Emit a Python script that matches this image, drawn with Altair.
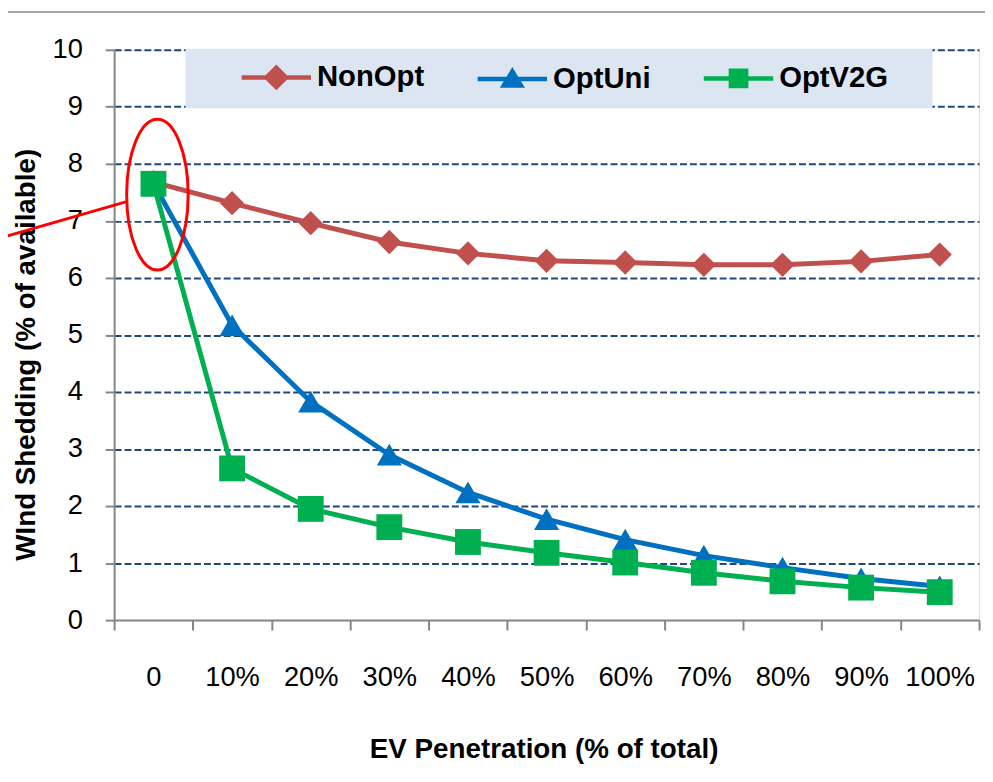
import altair as alt
import pandas as pd

# ---------------- data ----------------
categories = ["0", "10%", "20%", "30%", "40%", "50%", "60%", "70%", "80%", "90%", "100%"]
series_names = ["NonOpt", "OptUni", "OptV2G"]
nonopt = [7.68, 7.31, 6.96, 6.63, 6.43, 6.30, 6.27, 6.23, 6.23, 6.29, 6.41]
optuni = [7.66, 5.17, 3.83, 2.90, 2.24, 1.77, 1.41, 1.13, 0.92, 0.73, 0.59]
optv2g = [7.65, 2.66, 1.95, 1.63, 1.37, 1.18, 1.01, 0.83, 0.68, 0.57, 0.49]
y_ticks = [0, 1, 2, 3, 4, 5, 6, 7, 8, 9, 10]

# annotation (red ellipse around the first point)
annot_category = ["0"]
annot_value = [7.46]

# ---------------- styles ----------------
colors = ["#C0504D", "#0070C0", "#00B050"]
marker_shapes = ["diamond", "triangle-up", "square"]
marker_sizes = [600, 680, 380]
AXIS_GRAY = "#868686"
FONT = "Liberation Sans"


def nested(poly, factors):
    parts = []
    for f in factors:
        pts = [(x * f, y * f) for x, y in poly]
        parts.append("M" + "L".join(f"{x:.3f},{y:.3f}" for x, y in pts) + "Z")
    return "".join(parts)


ARM = "M-2.5,0L2.5,0"
legend_shapes = [
    ARM + nested([(-0.7, 0), (0, -0.7), (0.7, 0), (0, 0.7)], [1, 0.62, 0.25]),
    ARM + nested([(0, -0.56), (0.62, 0.46), (-0.62, 0.46)], [1, 0.6, 0.25]),
    ARM + nested([(-0.55, -0.55), (0.55, -0.55), (0.55, 0.55), (-0.55, 0.55)], [1, 0.6, 0.2]),
]
ellipse_path = (
    "M0.408,0C0.408,0.5523 0.2253,1 0,1C-0.2253,1 -0.408,0.5523 -0.408,0"
    "C-0.408,-0.5523 -0.2253,-1 0,-1C0.2253,-1 0.408,-0.5523 0.408,0Z"
    "M-0.408,0.092L-2.36,0.655"
)

rows = []
for s, vals in zip(series_names, [nonopt, optuni, optv2g]):
    for c, v in zip(categories, vals):
        rows.append({"series": s, "category": c, "value": v})
df = pd.DataFrame(rows)
annot = pd.DataFrame({"category": annot_category, "value": annot_value})

x_enc = alt.X(
    "category:N",
    sort=categories,
    scale=alt.Scale(type="band", domain=categories, paddingInner=0, paddingOuter=0),
    axis=alt.Axis(
        title="EV Penetration (% of total)",
        titleFont=FONT, titleFontSize=28, titleFontWeight="bold", titleColor="black",
        titleBaseline="alphabetic", titleY=139, titleX=433,
        labelFont=FONT, labelFontSize=27.5, labelColor="black", labelAngle=0,
        labelPadding=56, labelBaseline="alphabetic",
        tickSize=10, tickWidth=2, tickColor=AXIS_GRAY, tickBand="extent",
        domainColor=AXIS_GRAY, domainWidth=2, grid=False,
    ),
)
y_enc = alt.Y(
    "value:Q",
    scale=alt.Scale(domain=[0, 10], nice=False),
    axis=alt.Axis(
        values=y_ticks,
        title="WInd Shedding (% of available)",
        titleFont=FONT, titleFontSize=28, titleFontWeight="bold", titleColor="black",
        titleAngle=270, titleAlign="center", titleBaseline="alphabetic",
        titleX=-80, titleY=307,
        labelFont=FONT, labelFontSize=27.5, labelColor="black", labelPadding=23,
        tickSize=9, tickWidth=2, tickColor=AXIS_GRAY,
        domainColor=AXIS_GRAY, domainWidth=2,
        grid=True, gridColor="#1F497D", gridDash=[7, 3], gridWidth=2,
        gridOpacity={"condition": {"test": "datum.value === 0", "value": 0}, "value": 1},
    ),
)

base = alt.Chart(df)

lines = base.mark_line(strokeWidth=5).encode(
    x=x_enc, y=y_enc,
    color=alt.Color("series:N", scale=alt.Scale(domain=series_names, range=colors), legend=None),
)

points = base.mark_point(filled=True, opacity=1).encode(
    x=x_enc, y=y_enc,
    color=alt.Color("series:N", scale=alt.Scale(domain=series_names, range=colors), legend=None),
    shape=alt.Shape("series:N", scale=alt.Scale(domain=series_names, range=marker_shapes), legend=None),
    size=alt.Size("series:N", scale=alt.Scale(domain=series_names, range=marker_sizes), legend=None),
)

leg = alt.Legend(
    orient="none", legendX=72, legendY=-1, direction="horizontal",
    fillColor="#DCE6F2", padding=12,
    labelFont=FONT, labelFontSize=29.5, labelFontWeight="bold", labelColor="black",
    symbolSize=784, symbolStrokeWidth=4.5, symbolOffset=63,
    labelOffset=24.5, columnPadding=9,
    titleOrient="right", titlePadding=33, titleFontSize=20,
)
legend_title = "\u00a0"
legend_layer = base.transform_filter("false").mark_point(
    filled=False, opacity=1, size=784, strokeWidth=4.5
).encode(
    x=x_enc, y=y_enc,
    color=alt.Color("series:N", scale=alt.Scale(domain=series_names, range=colors), legend=leg, title=legend_title),
    shape=alt.Shape("series:N", scale=alt.Scale(domain=series_names, range=legend_shapes), legend=leg, title=legend_title),
)

ellipse = alt.Chart(annot).mark_point(
    shape=ellipse_path, size=23104, filled=False, color="#FF0000",
    strokeWidth=3, opacity=1, xOffset=4,
).encode(x=x_enc, y=y_enc)

border = alt.Chart(pd.DataFrame({"a": [0]})).mark_rule(color="#A6A6A6", strokeWidth=2).encode(
    x=alt.value(-110), x2=alt.value(880), y=alt.value(-38)
)

chart = (
    alt.layer(lines, points, legend_layer, ellipse, border)
    .resolve_scale(color="independent", shape="independent")
    .properties(
        width=872, height=575,
        padding={"left": 107, "top": 39, "right": 6, "bottom": 150},
        autosize=alt.AutoSizeParams(type="none"),
    )
    .configure_view(stroke=None)
    .configure(font=FONT)
)

chart.save("out.html", embed_options={"renderer": "svg", "actions": False})
